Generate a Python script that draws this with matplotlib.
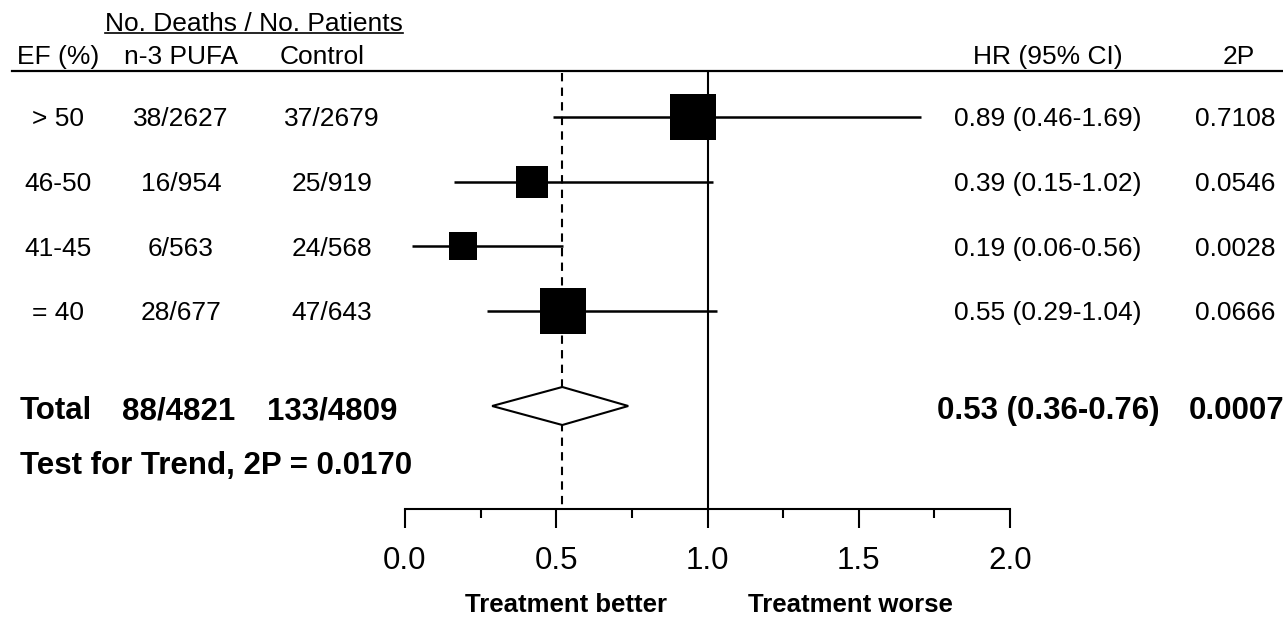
import matplotlib
matplotlib.use('Agg')
import matplotlib.pyplot as plt
from matplotlib.lines import Line2D
from matplotlib.patches import Polygon

plt.rcParams['font.family'] = ['Liberation Sans', 'DejaVu Sans']

# table data
ef_groups = ['> 50', '46-50', '41-45', '= 40']
pufa = ['38/2627', '16/954', '6/563', '28/677']
control = ['37/2679', '25/919', '24/568', '47/643']
hr_text = ['0.89 (0.46-1.69)', '0.39 (0.15-1.02)', '0.19 (0.06-0.56)', '0.55 (0.29-1.04)']
p_text = ['0.7108', '0.0546', '0.0028', '0.0666']

# hazard ratios as drawn in the plot
hr = [0.952, 0.42, 0.191, 0.522]
ci_lo = [0.49, 0.161, 0.022, 0.272]
ci_hi = [1.705, 1.018, 0.523, 1.032]

total_pufa = '88/4821'
total_control = '133/4809'
total_hr_text = '0.53 (0.36-0.76)'
total_p = '0.0007'
total_hr = 0.52
total_lo = 0.288
total_hi = 0.738
trend_text = 'Test for Trend, 2P = 0.0170'

major_ticks = [0.0, 0.5, 1.0, 1.5, 2.0]
minor_ticks = [0.25, 0.75, 1.25, 1.75]
tick_labels = ['0.0', '0.5', '1.0', '1.5', '2.0']

W, H = 1283, 621
fig = plt.figure(figsize=(W / 100, H / 100), dpi=100)

def put(x, y, s, size=19, weight='normal', ha='center'):
    # y is the vertical centre of the digits, in pixels from the top
    base = y + 0.716 * size * 100 / 72 / 2
    fig.text(x / W, 1 - base / H, s, fontsize=size, fontweight=weight,
             ha=ha, va='baseline')

def hline(x0, x1, y, lw=1.5):
    fig.add_artist(Line2D([x0 / W, x1 / W], [1 - y / H, 1 - y / H],
                          color='k', lw=lw, transform=fig.transFigure))

# headers
put(254, 22, 'No. Deaths / No. Patients')
hline(105, 403, 33, lw=1.2)
put(58, 55, 'EF (%)')
put(181, 55, 'n-3 PUFA')
put(322, 55, 'Control')
put(1048, 55, 'HR (95% CI)')
put(1239, 55, '2P')
hline(12, 1283, 71, lw=1.6)

# row text
row_px = [117, 182, 247, 311]
for i in range(4):
    put(58, row_px[i], ef_groups[i])
    put(181, row_px[i], pufa[i])
    put(332, row_px[i], control[i])
    put(1048, row_px[i], hr_text[i])
    put(1235, row_px[i], p_text[i])

put(20, 408, 'Total', size=22.5, weight='bold', ha='left')
put(179, 408, total_pufa, size=22.5, weight='bold')
put(332, 408, total_control, size=22.5, weight='bold')
put(1048, 408, total_hr_text, size=22.5, weight='bold')
put(1237, 408, total_p, size=22.5, weight='bold')
put(20, 463, trend_text, size=22.5, weight='bold', ha='left')

put(566, 603, 'Treatment better', size=18.5, weight='bold')
put(850, 603, 'Treatment worse', size=18.5, weight='bold')

# forest plot axes: x in HR units, y in row units
top_px, axis_px, step = 71, 509, 64.67
ax = fig.add_axes([405 / W, 1 - axis_px / H, 605 / W, (axis_px - top_px) / H])
ax.set_xlim(0, 2)
ax.set_ylim((axis_px - 117) / step, (top_px - 117) / step)
for s in ['top', 'left', 'right']:
    ax.spines[s].set_visible(False)
ax.spines['bottom'].set_linewidth(1.5)
ax.set_yticks([])
ax.set_xticks(major_ticks)
ax.set_xticklabels(tick_labels)
ax.set_xticks(minor_ticks, minor=True)
ax.tick_params(axis='x', which='major', length=13.7, width=1.5, pad=13,
               labelsize=22.5)
ax.tick_params(axis='x', which='minor', length=6.5, width=1.5)
ax.patch.set_visible(False)

rows = [0, 1, 2, 3]
total_row = (406 - 117) / step

ax.axvline(1.0, color='k', lw=1.5, zorder=1)
ax.plot([total_hr, total_hr], [(73 - 117) / step, (505 - 117) / step],
        color='k', lw=1.5, ls=(0, (4, 3)), zorder=1)
ax.hlines(rows, ci_lo, ci_hi, color='k', lw=1.8, zorder=2)
box_px = [47, 32, 28, 47]
for i in rows:
    ax.plot(hr[i], rows[i], 's', color='k', ms=box_px[i] * 0.72,
            mew=0, zorder=3)
dh = 19 / step
ax.add_patch(Polygon([(total_lo, total_row), (total_hr, total_row - dh),
                      (total_hi, total_row), (total_hr, total_row + dh)],
                     closed=True, facecolor='white', edgecolor='k',
                     lw=1.5, zorder=3))

fig.savefig('out.png', dpi=100)
